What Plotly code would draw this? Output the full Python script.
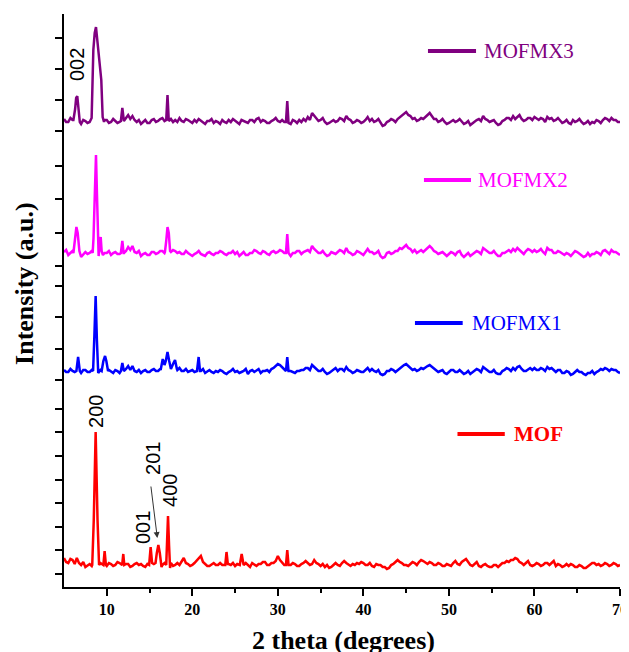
import numpy as np
import plotly.graph_objects as go

# ---- data (intensity heights above each pattern's own baseline, arbitrary units) ----
grid_deg = np.arange(5.0, 70.001, 0.25)

mofmx3_grid = [2, -1, -1, 3, 1, 0, 0, 0, -3, 1, 0, -2, -1, 0, 0, 0, 0, 0, 0, 1,
               1, -2, -1, 2, 0, -2, -1, 0, 0, 3, 6, 2, 5, 1, -1, 1, -3, -1, 1, -2,
               -2, 1, 2, -1, 0, 2, 3, 0, 0, 0, 2, -1, 1, -1, 3, 0, -1, 2, 1, -1,
               -2, 1, -1, 2, 0, -2, -3, 0, 0, 2, -2, 0, -1, -3, 1, -1, -2, 1, -1, 2,
               0, -2, -3, 1, 0, -1, -2, 1, 1, -1, 2, 3, -1, 1, 0, -2, -2, 0, 1, 3,
               0, -1, 1, -1, 0, 0, -3, 1, 0, -2, 1, -1, 2, 0, 4, 1, 8, 5, 3, 0,
               1, 3, -1, -3, -2, 0, 1, -1, 0, 3, 2, 0, 5, 2, 1, -2, -1, 1, 0, -2,
               -1, 1, 4, 0, 2, -1, 0, 2, -2, -5, -4, -1, 0, 2, 1, -1, 2, 4, 5, 7,
               9, 6, 5, 2, 3, 0, 1, 3, 2, 4, 6, 8, 5, 2, 2, -1, 0, 2, -1, -3,
               -2, 0, 1, -1, 0, 2, -1, -3, -2, 0, -4, -2, 0, 1, 2, 0, 5, 2, 1, -1,
               0, 1, -2, -4, -3, 0, 1, 3, 3, 1, 5, 2, 4, 6, 2, 0, 1, 3, 3, 1,
               4, 2, 1, 3, 2, -1, 4, 2, 3, 0, 1, 3, 0, -2, -1, 1, -2, -3, 1, -1,
               0, 2, -1, -3, -2, 0, -3, -1, -2, 1, 0, -2, 1, 3, 2, 0, 3, 1, 1, -1,
               -1]
mofmx3_peaks = [
    [(6.1, 1), (6.3, 12), (6.42, 23), (6.55, 25), (6.68, 12), (6.85, -1)],
    [(8.23, 3), (8.43, 71), (8.59, 88), (8.74, 94), (8.9, 81), (9.01, 68),
     (9.21, 51), (9.36, 41), (9.52, 4), (9.68, -1)],
    [(11.65, 0), (11.82, 13), (11.98, 1)],
    [(16.95, 1), (17.1, 26), (17.25, 0)],
    [(30.95, -1), (31.1, 20), (31.25, -2)],
]

mofmx2_grid = [1, 3, -2, 0, 2, 0, 0, 0, -4, -1, 1, -1, 0, 2, 0, 0, 0, 0, 0, 0,
               0, 2, -2, 0, 1, -1, -1, 0, 0, 2, 6, 3, 7, 1, 0, 2, -3, -1, 0, -2,
               -2, 1, 1, -1, 0, 2, 2, 0, 0, 0, 1, 3, 2, 0, 1, -1, -1, 2, 0, -2,
               -3, -1, 0, 2, -1, -2, -3, 0, 1, -1, -2, 0, 0, 2, 1, -1, -2, 0, 0, 2,
               -1, 1, -3, -1, 1, -2, -2, 0, 0, 3, 2, 0, -1, 2, 1, -1, -2, 1, 2, 0,
               1, 3, 2, 0, 0, 0, -3, 0, 0, 2, 2, -1, 1, 2, 3, 1, 7, 4, 2, 0,
               0, 2, -1, -3, -2, 1, 0, -1, 1, 3, 2, 0, 5, 1, 0, -2, -1, 2, 1, -1,
               -2, 1, 4, 1, 1, -1, 0, 2, -3, -5, -4, 0, 1, -1, 0, 2, 2, 5, 4, 6,
               8, 5, 4, 1, 3, 0, 2, 3, 1, 3, 5, 7, 5, 2, 1, -1, 0, 1, -1, -3,
               -1, 1, 0, -2, 1, 2, -2, -4, -2, 0, -3, -1, 0, 2, 1, -1, 5, 3, 2, 0,
               0, 2, -1, -3, -3, 0, 0, 2, 3, 1, 4, 2, 5, 3, 1, -1, 2, 4, 3, 1,
               3, 1, 2, 4, 1, -1, 5, 3, 3, 0, 0, 2, 1, -1, -2, 0, -1, -3, 0, 2,
               1, -1, -2, -4, -3, 0, -3, -1, -1, 1, 0, -2, 2, 3, 1, -1, 3, 1, 1, -1,
               -2]
mofmx2_peaks = [
    [(6.1, 0), (6.3, 12), (6.45, 26), (6.6, 20), (6.8, 2)],
    [(8.35, 0), (8.45, 15), (8.59, 55), (8.74, 98), (8.85, 60), (8.95, 10),
     (9.05, -3), (9.18, 8), (9.29, 16), (9.4, 2), (9.55, -2)],
    [(11.65, 0), (11.82, 12), (11.98, -1)],
    [(16.8, 1), (16.95, 12), (17.1, 26), (17.25, 20), (17.4, 2)],
    [(30.95, 0), (31.1, 19), (31.25, 0)],
]

mofmx1_grid = [1, -1, -1, 2, 0, -1, 0, 0, -2, 1, 1, -1, -1, 1, 0, 0, 0, 1, 0, 0,
               0, 1, -1, -2, 1, 0, -2, 0, 0, 2, 5, 1, 5, 0, -1, 1, -2, 0, 1, -1,
               -1, 1, 2, 0, 0, 2, 0, 0, 0, 0, 0, 0, 0, 1, 3, 0, 0, 2, -1, 0,
               1, -1, 0, 0, 0, 2, -2, 0, 1, -1, -2, 0, -1, 1, 0, -2, -3, -1, 0, 2,
               -1, 0, -2, -1, 0, 2, -3, 0, 1, -1, 1, 2, -2, 0, 0, 1, -1, 2, 3, 5,
               7, 6, 4, 2, 0, 0, 0, -1, -2, 0, 0, 1, 1, 3, 3, 1, 6, 4, 2, 0,
               0, 2, -1, -3, -2, 0, 1, 3, 0, 2, 2, 0, 4, 1, 0, -2, -1, 1, 0, -1,
               -1, 1, 3, 0, 2, 0, -1, 1, -3, -4, -3, 0, 0, 2, 1, -1, 1, 3, 4, 6,
               7, 5, 4, 1, 2, 0, 1, 3, 2, 4, 5, 6, 4, 2, 1, -1, 0, 1, -2, -3,
               -1, 1, 1, -1, -1, 1, -1, -3, -2, 0, -3, -1, 0, 2, 1, -1, 4, 2, 1, -1,
               -1, 1, -2, -3, -3, 0, 1, 3, 2, 0, 3, 1, 4, 5, 2, 0, 0, 2, 3, 1,
               3, 1, 1, 3, 2, 0, 4, 2, 3, 1, -1, 1, 1, -2, -2, 0, -1, -4, -3, -1,
               1, -1, -1, -3, -4, -2, -2, 0, -3, -1, 0, 2, 1, 3, 2, 0, 2, 1, 1, -1,
               -2]
mofmx1_peaks = [
    [(6.45, 0), (6.65, 14), (6.85, 0)],
    [(8.4, 0), (8.55, 35), (8.7, 75), (8.85, 30), (9.0, -2)],
    [(9.4, 0), (9.6, 10), (9.8, 15), (9.95, 10), (10.15, 0)],
    [(11.65, 0), (11.82, 8), (11.98, 0)],
    [(16.3, 1), (16.54, 12), (16.75, 6), (16.9, 10), (17.1, 19), (17.3, 10),
     (17.5, 2), (17.8, 8), (17.98, 11), (18.2, 2)],
    [(20.55, 0), (20.74, 14), (20.9, 0)],
    [(30.95, 0), (31.1, 14), (31.25, 0)],
]

mof_grid = [7, 3, 2, 6, 5, 1, 7, 2, 0, 3, -2, 0, 1, -1, 0, 0, 0, 2, 1, 0,
            -1, 2, 1, -1, 0, 3, 2, 0, 0, 1, 1, -2, -1, 1, 2, 0, 1, -1, -2, 1,
            0, 0, 1, 0, 0, 0, 0, 2, 0, 0, 2, -1, 0, 2, 0, 3, 7, 2, 1, -1,
            0, 2, 4, 6, 9, 3, 1, -1, -1, 1, 2, 0, 0, 2, 0, 0, 0, 1, 0, 2,
            -1, 1, 0, 0, 0, 2, 0, -2, 2, 0, -1, 1, 1, 3, 3, 0, 0, 2, 2, 4,
            9, 5, 2, 0, 0, 0, 0, 2, 1, -1, -1, 1, 2, 4, 2, 0, 1, 5, 2, 1,
            -1, 1, -2, 0, -3, -2, 0, 2, 0, -1, 2, 4, 2, 0, -1, 1, 0, 2, 1, 3,
            2, 0, 0, 2, -1, -2, 1, 0, 0, -2, -2, -4, -3, 0, 1, 3, 5, 3, 2, 0,
            0, -1, 1, 3, 2, 0, 3, 5, 4, 2, 1, 3, 2, 0, 0, 2, 1, -1, -1, 1,
            0, -1, 2, 4, 1, 0, 3, 5, 6, 3, 0, -1, 1, 3, -1, -2, 0, 1, -1, -2,
            -2, 0, 0, -2, 0, 2, 2, 4, 3, 5, 5, 7, 6, 3, 2, 0, 2, 4, 0, -1,
            0, 2, 1, -1, 0, 2, 2, 0, 2, 4, -1, 1, 0, -2, -1, 1, -1, 1, 0, -2,
            -2, 0, -1, -3, -3, -1, 0, 2, 2, 0, 1, -1, 0, 2, 1, -1, 0, 2, 1, -1,
            0]
mof_peaks = [
    [(8.3, 0), (8.48, 45), (8.7, 133), (8.92, 45), (9.1, 0)],
    [(9.6, 0), (9.75, 14), (9.9, 0)],
    [(11.8, 0), (11.93, 11), (12.05, 0)],
    [(14.95, 0), (15.13, 18), (15.3, 2)],
    [(15.7, 2), (15.85, 12), (16.03, 20), (16.2, 12), (16.4, -2)],
    [(16.95, 0), (17.05, 25), (17.16, 49), (17.28, 20), (17.4, -3)],
    [(23.85, 0), (24.0, 13), (24.15, 1)],
    [(25.55, 0), (25.77, 11), (25.98, 0)],
    [(30.95, 0), (31.1, 15), (31.25, 0)],
]

series_names = ["MOFMX3", "MOFMX2", "MOFMX1", "MOF"]
series_colors = ["#800080", "#FF00FF", "#0000FF", "#FF0000"]
series_offsets = [466, 334, 216, 22]   # vertical stacking offsets
series_grids = [mofmx3_grid, mofmx2_grid, mofmx1_grid, mof_grid]
series_peaks = [mofmx3_peaks, mofmx2_peaks, mofmx1_peaks, mof_peaks]

y_tick_vals = [549, 518, 487, 456, 421, 388, 354, 321, 301, 270,
               238, 207, 178, 155, 131, 107, 84, 60, 37, 13]

peak_labels = ["002", "200", "001", "201", "400"]
peak_label_x = [6.52, 8.74, 14.24, 15.40, 17.39]
peak_label_y = [522, 176, 59, 129, 97]


def build(grid_vals, clusters, offset):
    spans = [(min(p[0] for p in c), max(p[0] for p in c)) for c in clusters]
    pts = [(float(x), v) for x, v in zip(grid_deg, grid_vals)
           if not any(a <= x <= b for a, b in spans)]
    for c in clusters:
        pts.extend(c)
    pts.sort()
    xs = [p[0] for p in pts]
    ys = [offset + p[1] for p in pts]
    return xs, ys


fig = go.Figure()
for name, col, off, g, pk in zip(series_names, series_colors, series_offsets,
                                 series_grids, series_peaks):
    xs, ys = build(g, pk, off)
    fig.add_trace(go.Scatter(x=xs, y=ys, mode="lines", name=name,
                             line=dict(color=col, width=2.5)))

# in-plot legend (short line + label)
leg_line_x = [(47.55, 53.17), (47.08, 52.58), (46.03, 51.61), (51.0, 56.53)]
leg_text_x = [53.87, 53.17, 52.46, 57.33]
leg_y = [536, 407, 264, 153]
for name, col, (xa, xb), tx, ly in zip(series_names, series_colors, leg_line_x,
                                       leg_text_x, leg_y):
    fig.add_shape(type="line", x0=xa, x1=xb, y0=ly, y1=ly, xref="x", yref="y",
                  line=dict(color=col, width=4))
    bold = name == "MOF"
    fig.add_annotation(x=tx, y=ly, xref="x", yref="y", text=name, showarrow=False,
                       xanchor="left", yanchor="middle",
                       font=dict(family="Liberation Serif", size=21, color=col,
                                 weight="bold" if bold else "normal"))

for lab, lx, ly in zip(peak_labels, peak_label_x, peak_label_y):
    fig.add_annotation(x=lx, y=ly, xref="x", yref="y", text=lab, showarrow=False,
                       textangle=-90, xanchor="center", yanchor="middle",
                       font=dict(family="Liberation Sans", size=20, color="black"))

# arrow pointing to 201 peak
fig.add_annotation(x=15.91, y=49, ax=15.14, ay=102, xref="x", yref="y",
                   axref="x", ayref="y", text="", showarrow=True,
                   arrowhead=2, arrowsize=1.2, arrowwidth=1, arrowcolor="#333333")

# axis titles
fig.add_annotation(x=0.502, y=-0.0925, xref="paper", yref="paper",
                   text="2 theta (degrees)", showarrow=False,
                   xanchor="center", yanchor="middle",
                   font=dict(family="Liberation Serif", size=26, color="black",
                             weight="bold"))
fig.add_annotation(x=-0.0701, y=0.529, xref="paper", yref="paper",
                   text="Intensity (a.u.)", showarrow=False, textangle=-90,
                   xanchor="center", yanchor="middle",
                   font=dict(family="Liberation Serif", size=26, color="black",
                             weight="bold"))

# page body has an 8px default margin, so margins are reduced by 8 at left/top
fig.update_layout(
    width=629, height=652,
    margin=dict(l=56, r=17, t=6, b=73),
    plot_bgcolor="white", paper_bgcolor="white",
    showlegend=False,
    xaxis=dict(range=[5, 70], tickvals=[10, 20, 30, 40, 50, 60, 70],
               ticks="outside", ticklen=7, tickwidth=1.5, tickcolor="black",
               showline=True, linecolor="black", linewidth=2,
               showgrid=False, zeroline=False,
               minor=dict(tickvals=[15, 25, 35, 45, 55, 65], ticks="outside",
                          ticklen=4, tickwidth=1.5, tickcolor="black"),
               tickfont=dict(family="Liberation Serif", size=16, color="black",
                             weight="bold")),
    yaxis=dict(range=[0, 573], tickvals=y_tick_vals, showticklabels=False,
               ticks="outside", ticklen=7, tickwidth=1.5, tickcolor="black",
               showline=True, linecolor="black", linewidth=2,
               showgrid=False, zeroline=False),
)

fig.write_html("out.html")
